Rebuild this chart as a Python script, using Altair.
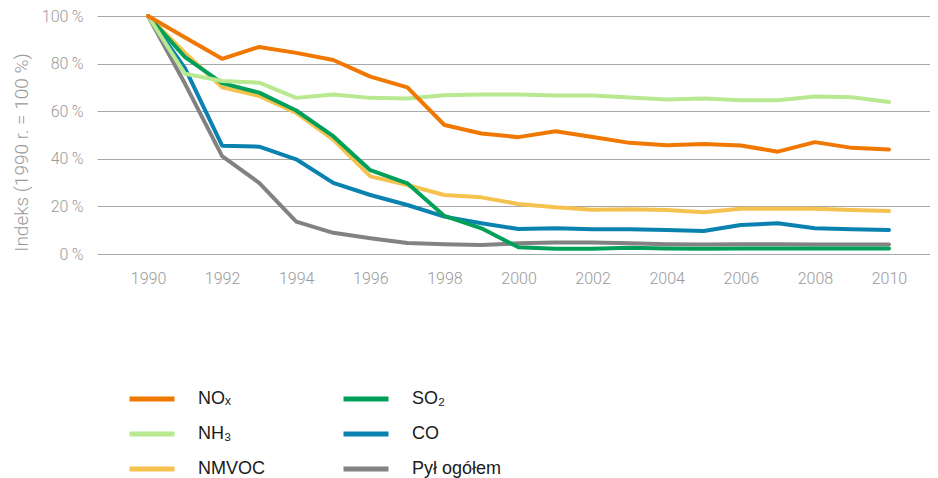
import altair as alt
import pandas as pd

years = list(range(1990, 2011))
series_names = ["NOₓ", "NH₃", "NMVOC", "SO₂", "CO", "Pył ogółem"]
colors = ["#f07800", "#b8e890", "#f5c24f", "#00a05a", "#0a82b0", "#828282"]

nox = [100, 91, 82, 87, 84.5, 81.5, 74.5, 70, 54.2, 50.6, 49.1, 51.6, 49.2, 46.7, 45.7, 46.2, 45.6, 43, 47, 44.6, 43.9]
nh3 = [100, 75.7, 72.7, 72, 65.6, 67, 65.6, 65.3, 66.7, 67, 67, 66.6, 66.6, 65.8, 64.9, 65.3, 64.6, 64.6, 66.2, 65.9, 63.9]
nmvoc = [100, 84.5, 70, 66.4, 59.3, 48.1, 32.6, 29, 24.8, 23.8, 21, 19.6, 18.6, 18.8, 18.5, 17.5, 19, 19, 19, 18.5, 18.1]
so2 = [100, 82.7, 71.8, 67.8, 60.3, 49.5, 35.2, 29.7, 16, 10.8, 2.8, 2.2, 2.2, 2.6, 2.3, 2.2, 2.3, 2.3, 2.3, 2.3, 2.3]
co = [100, 78, 45.5, 45.1, 39.8, 29.9, 24.8, 20.6, 15.7, 12.9, 10.5, 10.8, 10.4, 10.4, 10.1, 9.7, 12.2, 12.9, 10.8, 10.4, 10.1]
pyl = [100, 71.5, 41.1, 29.9, 13.6, 8.9, 6.6, 4.6, 4.1, 3.8, 4.5, 4.8, 4.8, 4.5, 4.1, 4.0, 4.1, 4.1, 4.0, 4.0, 4.0]

values = {"NOₓ": nox, "NH₃": nh3, "NMVOC": nmvoc, "SO₂": so2, "CO": co, "Pył ogółem": pyl}
draw_order = ["Pył ogółem", "CO", "NMVOC", "SO₂", "NH₃", "NOₓ"]

rows = []
for i, name in enumerate(draw_order):
    for y, v in zip(years, values[name]):
        rows.append({"year": y, "value": v, "series": name, "ord": i})
df = pd.DataFrame(rows)

axis_font = "Roboto"
gray = "#9a9a9a"

chart = alt.Chart(df).mark_line(strokeWidth=4, strokeJoin="round", strokeCap="round").encode(
    x=alt.X("year:Q",
            scale=alt.Scale(domain=[1988.623, 2011.107], nice=False, zero=False),
            axis=alt.Axis(values=list(range(1990, 2011, 2)), format="d", grid=False, ticks=False,
                          domain=False, title=None, labelFont=axis_font, labelFontSize=16,
                          labelFontWeight=300, labelColor=gray, labelPadding=16)),
    y=alt.Y("value:Q",
            scale=alt.Scale(domain=[0, 100], nice=False),
            axis=alt.Axis(values=[0, 20, 40, 60, 80, 100], labelExpr="datum.value + '\u2009%'",
                          grid=True, gridColor="#a8a8a8", gridWidth=1, ticks=False, domain=False,
                          title="Indeks (1990 r. = 100 %)", titleFont=axis_font, titleFontSize=19,
                          titleFontWeight=300, titleColor=gray, titlePadding=10, titleY=136,
                          labelFont=axis_font, labelFontSize=16, labelFontWeight=300,
                          labelColor=gray, labelPadding=14)),
    color=alt.Color("series:N",
                    scale=alt.Scale(domain=series_names, range=colors),
                    legend=alt.Legend(orient="none", legendX=30, legendY=358, columns=2,
                                      title=None, symbolType="stroke", symbolSize=2025,
                                      symbolStrokeWidth=5, labelFont="Liberation Sans",
                                      labelFontSize=18, labelColor="#1a1a1a", labelOffset=21,
                                      columnPadding=68, rowPadding=-12, padding=0)),
    detail="series:N",
    order=alt.Order("ord:Q"),
).properties(
    width=833, height=238,
    autosize=alt.AutoSizeParams(type="none"),
    padding={"left": 89, "top": 8, "right": 0, "bottom": 232},
).configure_view(stroke=None)

chart.save("out.html", embed_options={"renderer": "svg", "actions": False})
